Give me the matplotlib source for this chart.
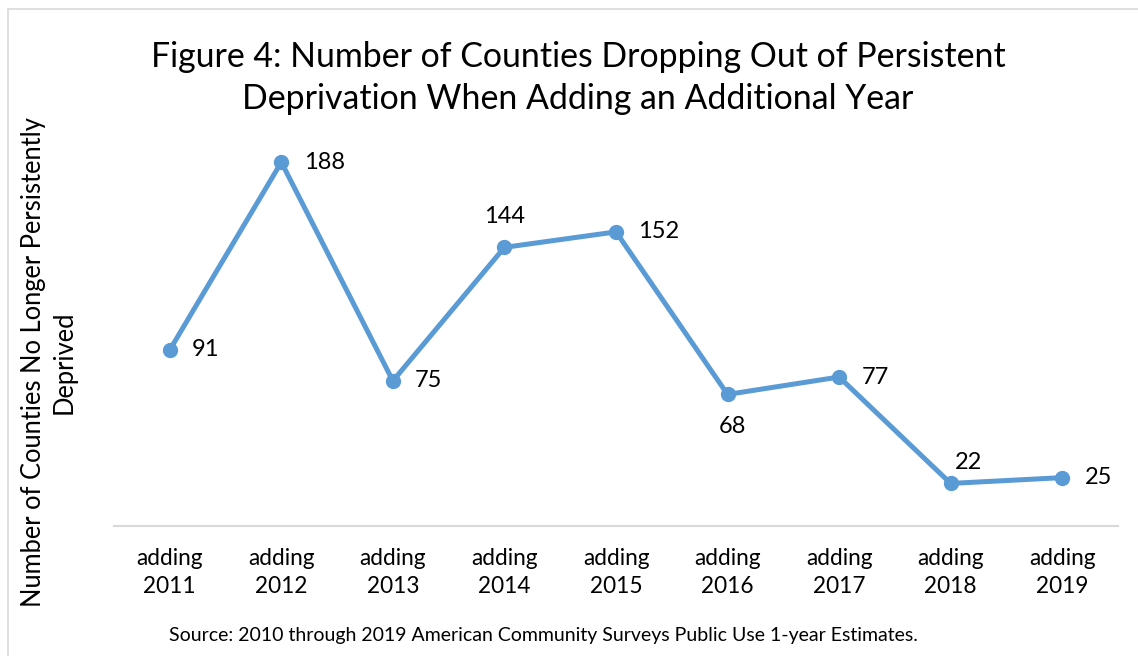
import matplotlib.pyplot as plt
from matplotlib.patches import Rectangle

plt.rcParams['font.family'] = ['Lato', 'DejaVu Sans']

categories = ["adding\n2011", "adding\n2012", "adding\n2013", "adding\n2014", "adding\n2015",
              "adding\n2016", "adding\n2017", "adding\n2018", "adding\n2019"]
counties = [91, 188, 75, 144, 152, 68, 77, 22, 25]

blue = "#5B9BD5"

fig = plt.figure(figsize=(11.38, 6.56), dpi=100)
ax = fig.add_axes([114 / 1138, 1 - 526 / 656, (1118 - 114) / 1138, (526 - 139) / 656])

x = list(range(len(categories)))
ax.plot(x, counties, color=blue, linewidth=3.6, marker="o", markersize=10,
        solid_capstyle="round", solid_joinstyle="round")

# label placement (points): right of marker, except a few above/below
label_offsets = [(16, 0, "left"), (16, 0, "left"), (16, 0, "left"), (0, 22, "center"),
                 (16, 0, "left"), (3.5, -23, "center"), (16, 0, "left"), (13, 15, "center"),
                 (16, 0, "left")]
for xi, v, (dx, dy, ha) in zip(x, counties, label_offsets):
    ax.annotate(str(v), (xi, v), xytext=(dx, dy), textcoords="offset points",
                ha=ha, va="center", fontsize=17)

ax.set_xlim(-0.5, len(categories) - 0.5)
ax.set_ylim(0, 200)
ax.set_xticks(x, categories)
ax.tick_params(axis="x", length=0, labelsize=16.3, pad=16)
for lbl in ax.get_xticklabels():
    lbl.set_linespacing(1.4)
ax.set_yticks([])
for side in ["top", "left", "right"]:
    ax.spines[side].set_visible(False)
ax.spines["bottom"].set_color("#D9D9D9")
ax.spines["bottom"].set_linewidth(1.5)

fig.text(578 / 1138, 1 - 78 / 656,
         "Figure 4: Number of Counties Dropping Out of Persistent\nDeprivation When Adding an Additional Year",
         ha="center", va="center", fontsize=24.4, linespacing=1.4)
fig.text(49 / 1138, 1 - 362 / 656, "Number of Counties No Longer Persistently\nDeprived",
         ha="center", va="center", rotation=90, fontsize=18.4, linespacing=1.3)
fig.text(543 / 1138, 1 - 636 / 656,
         "Source: 2010 through 2019 American Community Surveys Public Use 1-year Estimates.",
         ha="center", va="center", fontsize=14)

fig.patches.append(Rectangle((8 / 1138, -0.01), 1.1, 1 - 9 / 656 + 0.01, transform=fig.transFigure,
                             fill=False, edgecolor="#D9D9D9", linewidth=1.2))

fig.savefig("out.png", dpi=100)
